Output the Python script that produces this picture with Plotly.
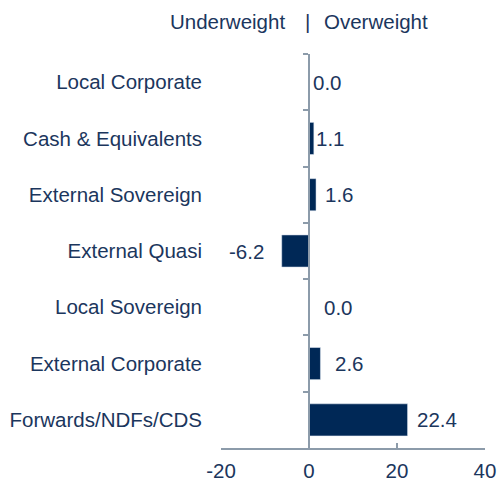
import plotly.graph_objects as go

categories = ["Local Corporate", "Cash & Equivalents", "External Sovereign", "External Quasi",
              "Local Sovereign", "External Corporate", "Forwards/NDFs/CDS"]
values = [0.0, 1.1, 1.6, -6.2, 0.0, 2.6, 22.4]
x_ticks = [-20, 0, 20, 40]
x_tick_text = ["-20", "0", "20", "40"]
label_gap = [2, 0, 7, 16, 13, 13, 7]

BAR = "#002856"
TXT = "#1B365D"
AX = "#8C9BAA"
FONT = "Liberation Sans, Arial, sans-serif"
FS = 20.5

fig = go.Figure()
fig.add_trace(go.Bar(y=categories, x=values, orientation="h", marker_color=BAR,
                     width=0.57, hoverinfo="skip", showlegend=False))
fig.add_trace(go.Scatter(y=categories, x=[0] * len(categories), yaxis="y2", mode="markers",
                         marker=dict(opacity=0), hoverinfo="skip", showlegend=False))

for c, v, g in zip(categories, values, label_gap):
    fig.add_annotation(x=v, y=c, xref="x", yref="y", text=f"{v:.1f}", showarrow=False,
                       xanchor="right" if v < 0 else "left", xshift=-g if v < 0 else g,
                       font=dict(family=FONT, size=FS, color=TXT))

for t, anc, sh in [("Underweight", "right", -22), ("|", "center", -2), ("Overweight", "left", 13)]:
    fig.add_annotation(x=0, y=1, xref="x", yref="paper", yshift=33, text=t, showarrow=False,
                       xanchor=anc, xshift=sh, yanchor="middle",
                       font=dict(family=FONT, size=FS, color=TXT))

fig.update_layout(
    width=498, height=481,
    margin=dict(l=221, r=13, t=54, b=33, autoexpand=False),
    plot_bgcolor="white", paper_bgcolor="white",
    font=dict(family=FONT, size=FS, color=TXT),
    xaxis=dict(range=[-20, 40], tickvals=x_ticks, ticktext=x_tick_text, showgrid=False,
               zeroline=False, automargin=False,
               showline=True, linecolor=AX, linewidth=1.5, ticks="inside", ticklen=5,
               tickcolor=AX, tickwidth=1.5, ticklabelstandoff=4,
               tickfont=dict(family=FONT, size=FS, color=TXT)),
    yaxis=dict(categoryorder="array", categoryarray=categories, autorange="reversed",
               showgrid=False, zeroline=False, showline=False, ticks="", automargin=False,
               ticklabelstandoff=18, tickfont=dict(family=FONT, size=FS, color=TXT)),
    yaxis2=dict(overlaying="y", matches="y", anchor="free", position=1/3, automargin=False,
                showgrid=False, zeroline=False, showline=True, linecolor=AX, linewidth=1.5,
                ticks="outside", tickson="boundaries", ticklen=5, tickcolor=AX, tickwidth=1.5,
                showticklabels=False),
)

fig.write_html("out.html", config={"displayModeBar": False},
               post_script="document.body.style.margin='0';document.body.style.overflow='hidden';")
